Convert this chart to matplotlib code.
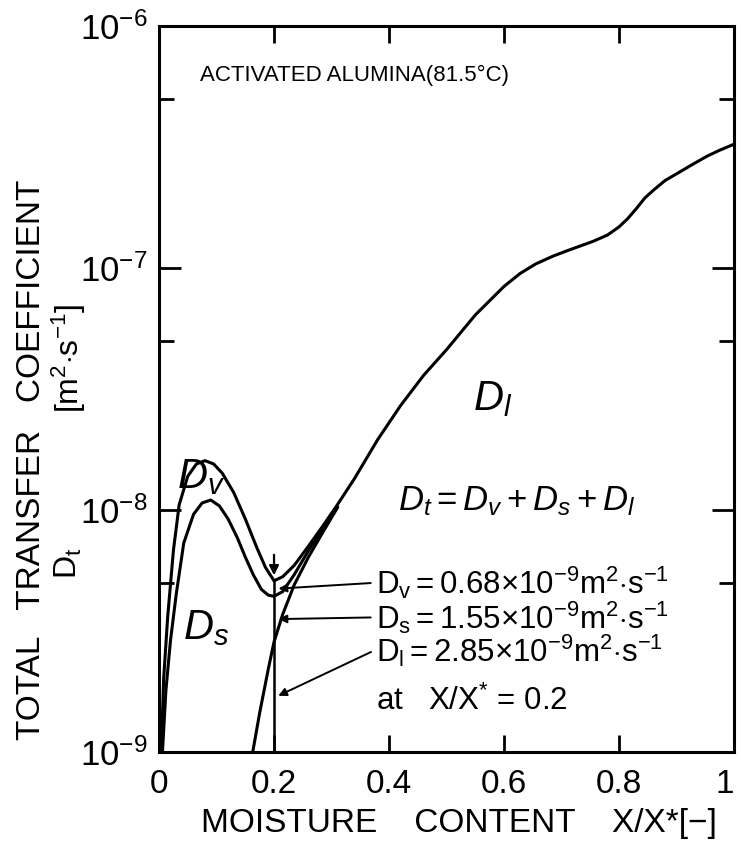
import numpy as np
import matplotlib
matplotlib.use('Agg')
import matplotlib.pyplot as plt
import matplotlib as mpl

plt.rcParams['font.family'] = ['Liberation Sans', 'DejaVu Sans']
plt.rcParams['mathtext.fontset'] = 'custom'
plt.rcParams['mathtext.rm'] = 'Liberation Sans'
plt.rcParams['mathtext.it'] = 'Liberation Sans:italic'
plt.rcParams['axes.linewidth'] = 2.2

# total coefficient Dt = Dv + Ds + Dl
x_dt = [0.004, 0.008, 0.015, 0.025, 0.035, 0.05, 0.065, 0.08, 0.095, 0.11, 0.13,
        0.15, 0.17, 0.185, 0.2, 0.215, 0.235, 0.26, 0.285, 0.31, 0.34, 0.38,
        0.42, 0.46, 0.50, 0.55, 0.60, 0.628, 0.655, 0.685, 0.71, 0.735, 0.755,
        0.78, 0.80, 0.815, 0.83, 0.845, 0.86, 0.88, 0.906, 0.93, 0.953, 0.975, 1.0]
dt = [1.0e-9, 2.0e-9, 3.6e-9, 6.8e-9, 1.05e-8, 1.38e-8, 1.55e-8, 1.6e-8, 1.55e-8,
      1.42e-8, 1.18e-8, 9.2e-9, 7.0e-9, 5.8e-9, 5.1e-9, 5.3e-9, 5.9e-9, 7.1e-9,
      8.6e-9, 1.05e-8, 1.35e-8, 1.95e-8, 2.7e-8, 3.6e-8, 4.6e-8, 6.4e-8, 8.4e-8,
      9.5e-8, 1.04e-7, 1.12e-7, 1.18e-7, 1.24e-7, 1.29e-7, 1.37e-7, 1.48e-7,
      1.6e-7, 1.76e-7, 1.95e-7, 2.1e-7, 2.3e-7, 2.5e-7, 2.7e-7, 2.9e-7, 3.07e-7,
      3.25e-7]

# Ds + Dl (inner curve)
x_sl = [0.006, 0.012, 0.02, 0.03, 0.043, 0.06, 0.075, 0.09, 0.105, 0.12, 0.136,
        0.15, 0.164, 0.178, 0.19, 0.2, 0.215, 0.235, 0.26, 0.285, 0.31]
dsl = [1.0e-9, 1.8e-9, 2.9e-9, 4.5e-9, 7.3e-9, 9.6e-9, 1.07e-8, 1.1e-8, 1.04e-8,
       9.2e-9, 7.7e-9, 6.4e-9, 5.4e-9, 4.7e-9, 4.45e-9, 4.4e-9, 4.6e-9, 5.4e-9,
       6.8e-9, 8.4e-9, 1.03e-8]

# Dl
x_l = [0.163, 0.175, 0.19, 0.2, 0.215, 0.235, 0.26, 0.285, 0.31]
dl = [1.0e-9, 1.45e-9, 2.2e-9, 2.85e-9, 3.7e-9, 4.9e-9, 6.4e-9, 8.1e-9, 1.02e-8]

# values at X/X* = 0.2
x_at = 0.2
dv_at = 0.68e-9
ds_at = 1.55e-9
dl_at = 2.85e-9

fig = plt.figure(figsize=(7.41, 8.48), dpi=100)
ax = fig.add_axes([0.2146, 0.1132, 0.776, 0.856])

lw = 2.2
ax.plot(x_dt, dt, color='black', lw=lw)
ax.plot(x_sl, dsl, color='black', lw=lw)
ax.plot(x_l, dl, color='black', lw=lw)

ax.set_yscale('log')
ax.set_xlim(0, 1)
ax.set_ylim(1e-9, 1e-6)

# vertical line at X/X* = 0.2 and the split into Dl, Ds, Dv
tot = dv_at + ds_at + dl_at
ax.plot([x_at, x_at], [1e-9, tot], color='black', lw=1.8)
ax.annotate('', xy=(x_at, tot * 1.03), xytext=(x_at, tot * 1.32),
            arrowprops=dict(arrowstyle='-|>', color='black', lw=1.6,
                            mutation_scale=14))

mids = [np.sqrt((dl_at + ds_at) * tot),
        np.sqrt(dl_at * (dl_at + ds_at)),
        np.sqrt(1e-9 * dl_at)]
txt_y = [5.0e-9, 3.6e-9, 2.62e-9]
for m, ty in zip(mids, txt_y):
    ax.annotate('', xy=(x_at + 0.003, m), xytext=(0.373, ty),
                arrowprops=dict(arrowstyle='-|>', color='black', lw=1.4,
                                mutation_scale=12))

fs_val = 22.5
ax.text(0.378, txt_y[0], r'$\mathrm{D_v = 0.68{\times}10^{-9}m^2{\cdot}s^{-1}}$',
        fontsize=fs_val, va='center', ha='left')
ax.text(0.378, txt_y[1], r'$\mathrm{D_s = 1.55{\times}10^{-9}m^2{\cdot}s^{-1}}$',
        fontsize=fs_val, va='center', ha='left')
ax.text(0.378, txt_y[2], r'$\mathrm{D_l = 2.85{\times}10^{-9}m^2{\cdot}s^{-1}}$',
        fontsize=fs_val, va='center', ha='left')
ax.text(0.378, 1.62e-9, r'at   X/X$^{*}$ = 0.2', fontsize=fs_val, va='center', ha='left')

ax.text(0.415, 1.09e-8, r'$D_t = D_v + D_s + D_l$', fontsize=25, va='center', ha='left')
ax.text(0.546, 2.88e-8, r'$D_l$', fontsize=30, va='center', ha='left')
ax.text(0.031, 1.37e-8, r'$D_v$', fontsize=30, va='center', ha='left')
ax.text(0.042, 3.24e-9, r'$D_s$', fontsize=30, va='center', ha='left')

ax.text(0.071, 0.932, u'ACTIVATED ALUMINA(81.5\u00b0C)', transform=ax.transAxes,
        fontsize=16, va='center', ha='left')

# ticks
ax.set_xticks([0, 0.2, 0.4, 0.6, 0.8, 1.0])
ax.set_xticklabels(['0', '0.2', '0.4', '0.6', '0.8', '1'])
ax.get_xticklabels()[-1].set_horizontalalignment('right')
ax.set_yticks([1e-9, 1e-8, 1e-7, 1e-6])
ax.set_yticklabels([r'$10^{-9}$', r'$10^{-8}$', r'$10^{-7}$', r'$10^{-6}$'])
ax.yaxis.set_minor_locator(mpl.ticker.FixedLocator([5e-9, 5e-8, 5e-7]))
ax.yaxis.set_minor_formatter(mpl.ticker.NullFormatter())
ax.xaxis.set_tick_params(which='major', length=12, width=2, direction='in',
                         top=True, labelsize=24, pad=12)
ax.yaxis.set_tick_params(which='major', length=16, width=2, direction='in',
                         right=True, labelsize=25, pad=8)
ax.yaxis.set_tick_params(which='minor', length=11, width=2, direction='in',
                         right=True)

fig.text(0.62, 0.029, 'MOISTURE    CONTENT    X/X*[\u2212]', fontsize=24,
         ha='center', va='center')
fig.text(0.043, 0.458, 'TOTAL   TRANSFER   COEFFICIENT', fontsize=24,
         ha='center', va='center', rotation=90)
fig.text(0.093, 0.336, r'D$_{\mathrm{t}}$', fontsize=23, ha='center', va='center',
         rotation=90)
fig.text(0.093, 0.578, r'[m$^{2}$$\cdot$s$^{-1}$]', fontsize=23, ha='center',
         va='center', rotation=90)

plt.savefig('out.png', dpi=100)
